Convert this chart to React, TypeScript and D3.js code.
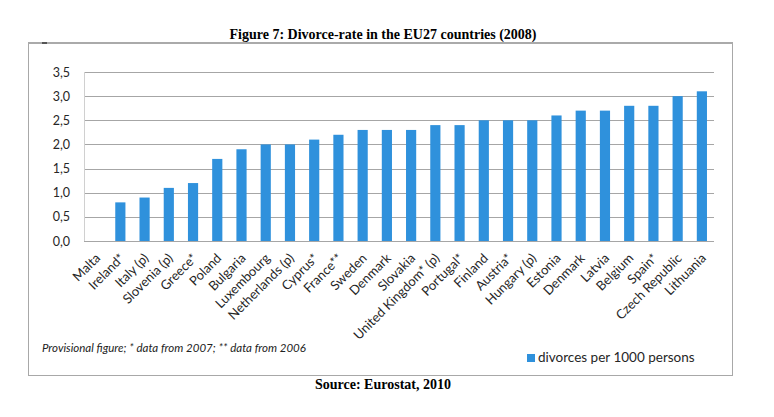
import React from "react";
import * as d3 from "d3";

const categories = [
  "Malta", "Ireland*", "Italy (p)", "Slovenia (p)", "Greece*", "Poland", "Bulgaria",
  "Luxembourg", "Netherlands (p)", "Cyprus*", "France**", "Sweden", "Denmark", "Slovakia",
  "United Kingdom* (p)", "Portugal*", "Finland", "Austria*", "Hungary (p)", "Estonia",
  "Denmark", "Latvia", "Belgium", "Spain*", "Czech Republic", "Lithuania",
];
const values = [
  0, 0.8, 0.9, 1.1, 1.2, 1.7, 1.9, 2.0, 2.0, 2.1, 2.2, 2.3, 2.3, 2.3,
  2.4, 2.4, 2.5, 2.5, 2.5, 2.6, 2.7, 2.7, 2.8, 2.8, 3.0, 3.1,
];
const yTicks = [0, 0.5, 1.0, 1.5, 2.0, 2.5, 3.0, 3.5];
const title = "Figure 7: Divorce-rate in the EU27 countries (2008)";
const source = "Source: Eurostat, 2010";
const note = "Provisional figure; * data from 2007; ** data from 2006";
const seriesName = "divorces per 1000 persons";

export default function App() {
  const W = 774, H = 417;
  const left = 84, right = 714, top = 72, bottom = 241;
  const x = d3.scaleBand<number>().domain(d3.range(categories.length)).range([left, right]).paddingInner(0.58).paddingOuter(0.29);
  const y = d3.scaleLinear().domain([0, 3.5]).range([bottom, top]);
  const fmt = (v: number) => d3.format(".1f")(v).replace(".", ",");
  const sans = "Lato, 'Open Sans', sans-serif";
  const serif = "'Liberation Serif', 'Times New Roman', serif";
  const bar = "#2F91DC";
  return (
    <svg width={W} height={H} style={{ position: "absolute", left: 0, top: 0, background: "#fff" }}>
      <text x={383} y={39} textAnchor="middle" fontFamily={serif} fontWeight="bold" fontSize={14} fill="#000">{title}</text>
      <rect x={28.5} y={43.5} width={704} height={332} fill="none" stroke="#A8A8A8" strokeWidth={1} />
      <line x1={28} x2={733} y1={43} y2={43} stroke="#AAAAAA" strokeWidth={2} />
      <line x1={42} x2={47} y1={43} y2={43} stroke="#555" strokeWidth={2} />
      {yTicks.map((t) => (
        <g key={t}>
          <line x1={left} x2={right} y1={Math.round(y(t)) + 0.5} y2={Math.round(y(t)) + 0.5} stroke="#A6A6A6" strokeWidth={1} />
          <text x={70} y={y(t) + 4.5} textAnchor="end" fontFamily={sans} fontSize={12.5} fill="#262626">{fmt(t)}</text>
        </g>
      ))}
      <line x1={left + 0.5} x2={left + 0.5} y1={top} y2={bottom} stroke="#D0D0D0" strokeWidth={1} />
      {values.map((v, i) => (
        v > 0 ? <rect key={i} x={x(i)} y={y(v)} width={x.bandwidth()} height={y(0) - y(v)} fill={bar} /> : null
      ))}
      {categories.map((c, i) => {
        const cx = (x(i) as number) + x.bandwidth() / 2 + 5;
        const cy = 259;
        return (
          <text key={i} x={cx} y={cy} transform={`rotate(-45 ${cx} ${cy})`} textAnchor="end" fontFamily={sans} fontSize={13} fill="#262626">{c}</text>
        );
      })}
      <text x={42} y={352} fontFamily={sans} fontStyle="italic" fontSize={11.5} fill="#222">{note}</text>
      <rect x={527} y={354} width={8} height={8} fill={bar} />
      <text x={538} y={362} fontFamily={sans} fontSize={13.5} fill="#262626">{seriesName}</text>
      <text x={383} y={389} textAnchor="middle" fontFamily={serif} fontWeight="bold" fontSize={14} fill="#000">{source}</text>
    </svg>
  );
}
